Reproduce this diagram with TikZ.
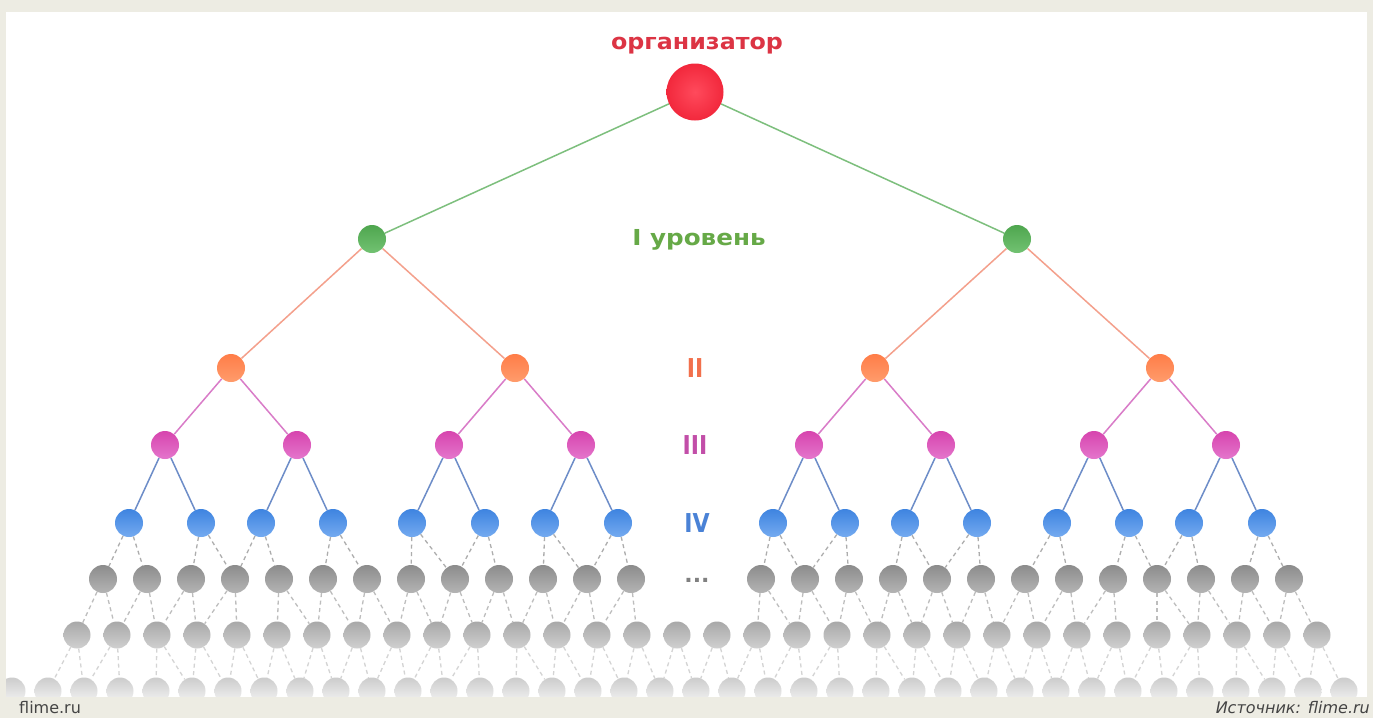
\documentclass[tikz,border=0pt]{standalone}
\usepackage{fontspec}
\setmainfont{DejaVu Sans}
\definecolor{bgbeige}{HTML}{EDECE3}
\definecolor{redN}{HTML}{F2283C}
\definecolor{redL}{HTML}{FF4A5C}
\definecolor{redT}{HTML}{DC3444}
\definecolor{grnT}{HTML}{66A947}
\definecolor{grnE}{HTML}{7DBF7D}
\definecolor{grnA}{HTML}{4FA64F}
\definecolor{grnB}{HTML}{72C272}
\definecolor{orgT}{HTML}{F2704C}
\definecolor{orgE}{HTML}{F4A08C}
\definecolor{orgA}{HTML}{FF7D48}
\definecolor{orgB}{HTML}{FF9C6C}
\definecolor{magT}{HTML}{C24EA8}
\definecolor{magE}{HTML}{D97CC8}
\definecolor{magA}{HTML}{D744AE}
\definecolor{magB}{HTML}{E476CC}
\definecolor{bluT}{HTML}{4A82D6}
\definecolor{bluE}{HTML}{6D8DC8}
\definecolor{bluA}{HTML}{3E84E0}
\definecolor{bluB}{HTML}{74AAF0}
\definecolor{gA1}{HTML}{8C8C8C}
\definecolor{gB1}{HTML}{B4B4B4}
\definecolor{gA2}{HTML}{A8A8A8}
\definecolor{gB2}{HTML}{D0D0D0}
\definecolor{gA3}{HTML}{CCCCCC}
\definecolor{gB3}{HTML}{F6F6F6}
\definecolor{dE1}{HTML}{ADADAD}
\definecolor{dE2}{HTML}{BDBDBD}
\definecolor{dE3}{HTML}{D4D4D4}
\definecolor{footT}{HTML}{444444}
\pgfdeclarelayer{bg}
\pgfdeclarelayer{edges}
\pgfdeclarelayer{fg}
\pgfsetlayers{bg,edges,main,fg}
\begin{document}
\begin{tikzpicture}[x=1pt,y=-1pt,
  dot/.style={circle,inner sep=0pt,minimum size=28pt,draw=none},
  rootdot/.style={dot,minimum size=57pt,inner color=redL,outer color=redN},
  grndot/.style={dot,top color=grnA,bottom color=grnB},
  orgdot/.style={dot,top color=orgA,bottom color=orgB},
  magdot/.style={dot,top color=magA,bottom color=magB},
  bludot/.style={dot,top color=bluA,bottom color=bluB},
  g1dot/.style={dot,top color=gA1,bottom color=gB1},
  g2dot/.style={dot,minimum size=27pt,top color=gA2,bottom color=gB2},
  g3dot/.style={dot,minimum size=27pt,top color=gA3,bottom color=gB3},
  cedge/.style={line width=1.5pt},
  dedge/.style={line width=1.3pt,dash pattern=on 4pt off 3.5pt},
  lbl/.style={font=\bfseries\fontsize{22}{26}\selectfont,inner sep=0pt},
  num/.style={font=\bfseries\fontsize{26}{30}\selectfont,inner sep=0pt}
]
\useasboundingbox (0,0) rectangle (1373,718);
\begin{pgfonlayer}{bg}
  \fill[bgbeige] (0,0) rectangle (1373,718);
  \fill[white] (6,12) rectangle (1367,697);
\end{pgfonlayer}

% nodes
\node[rootdot] (root) at (695,92) {};
\node[grndot] (a1) at (372,239) {};
\node[grndot] (a2) at (1017,239) {};
\foreach \x [count=\i] in {231,515,875,1160}
  \node[orgdot] (b\i) at (\x,368) {};
\foreach \x [count=\i] in {165,297,449,581,809,941,1094,1226}
  \node[magdot] (c\i) at (\x,445) {};
\foreach \x [count=\i] in {129,201,261,333,412,485,545,618,773,845,905,977,1057,1129,1189,1262}
  \node[bludot] (d\i) at (\x,523) {};
\foreach \k in {0,...,25}{
  \pgfmathtruncatemacro\xx{\k<13 ? 103+44*\k : 761+44*(\k-13)}
  \node[g1dot] (e\k) at (\xx,579) {};
}
\foreach \k in {0,...,31}
  \node[g2dot] (f\k) at (77+40*\k,635) {};
\begin{scope}
  \clip (6,12) rectangle (1367,697);
  \foreach \k in {0,...,37}
    \node[g3dot] (h\k) at (12+36*\k,691) {};
\end{scope}

% edges
\begin{pgfonlayer}{edges}
  \draw[cedge,grnE] (root) -- (a1);
  \draw[cedge,grnE] (root) -- (a2);
  \draw[cedge,orgE] (a1) -- (b1);
  \draw[cedge,orgE] (a1) -- (b2);
  \draw[cedge,orgE] (a2) -- (b3);
  \draw[cedge,orgE] (a2) -- (b4);
  \foreach \i in {1,...,4}{
    \pgfmathtruncatemacro\p{2*\i-1}
    \pgfmathtruncatemacro\q{2*\i}
    \draw[cedge,magE] (b\i) -- (c\p);
    \draw[cedge,magE] (b\i) -- (c\q);
  }
  \foreach \i in {1,...,8}{
    \pgfmathtruncatemacro\p{2*\i-1}
    \pgfmathtruncatemacro\q{2*\i}
    \draw[cedge,bluE] (c\i) -- (d\p);
    \draw[cedge,bluE] (c\i) -- (d\q);
  }
  \foreach \b/\l/\r in {1/0/1,2/2/3,3/3/4,4/5/6,5/7/8,6/8/9,7/10/11,8/11/12,
                        9/13/14,10/14/15,11/16/17,12/17/18,13/19/20,14/21/22,15/22/23,16/24/25}{
    \draw[dedge,dE1] (d\b) -- (e\l);
    \draw[dedge,dE1] (d\b) -- (e\r);
  }
  \foreach \k in {0,...,25}{
    \pgfmathtruncatemacro\xx{\k<13 ? 103+44*\k : 761+44*(\k-13)}
    \pgfmathtruncatemacro\ja{(\xx-77)/40}
    \pgfmathtruncatemacro\jb{\ja+1}
    \draw[dedge,dE2] (e\k) -- (f\ja);
    \draw[dedge,dE2] (e\k) -- (f\jb);
  }
  \begin{scope}
    \clip (6,12) rectangle (1367,697);
    \foreach \k in {0,...,31}{
      \pgfmathtruncatemacro\ja{(65+40*\k)/36}
      \pgfmathtruncatemacro\jb{\ja+1}
      \draw[dedge,dE3] (f\k) -- (h\ja);
      \draw[dedge,dE3] (f\k) -- (h\jb);
    }
  \end{scope}
\end{pgfonlayer}

% labels
\node[lbl,text=redT] (tOrg) at (697,46) {\scalebox{1.08}[1]{организатор}};
\node[lbl,text=grnT] (tL1) at (699,240) {\scalebox{1.12}[1]{I уровень}};
\node[num,text=orgT] (tL2) at (695,368) {\scalebox{0.85}[1]{II}};
\node[num,text=magT] (tL3) at (695,445) {\scalebox{0.85}[1]{III}};
\node[num,text=bluT] (tL4) at (697,523) {\scalebox{0.85}[1]{IV}};
\node[lbl,text=gray] (tDots) at (697,580) {...};

% footer
\begin{pgfonlayer}{fg}
  \fill[bgbeige] (0,697) rectangle (1373,718);
  \node[anchor=base west,inner sep=0pt,text=footT,font=\fontsize{16}{18}\selectfont] (fl) at (19,713) {flime.ru};
  \node[anchor=base east,inner sep=0pt,text=footT,font=\itshape\fontsize{16}{18}\selectfont] (fr) at (1370,713) {Источник: flime.ru};
\end{pgfonlayer}
\end{tikzpicture}
\end{document}
